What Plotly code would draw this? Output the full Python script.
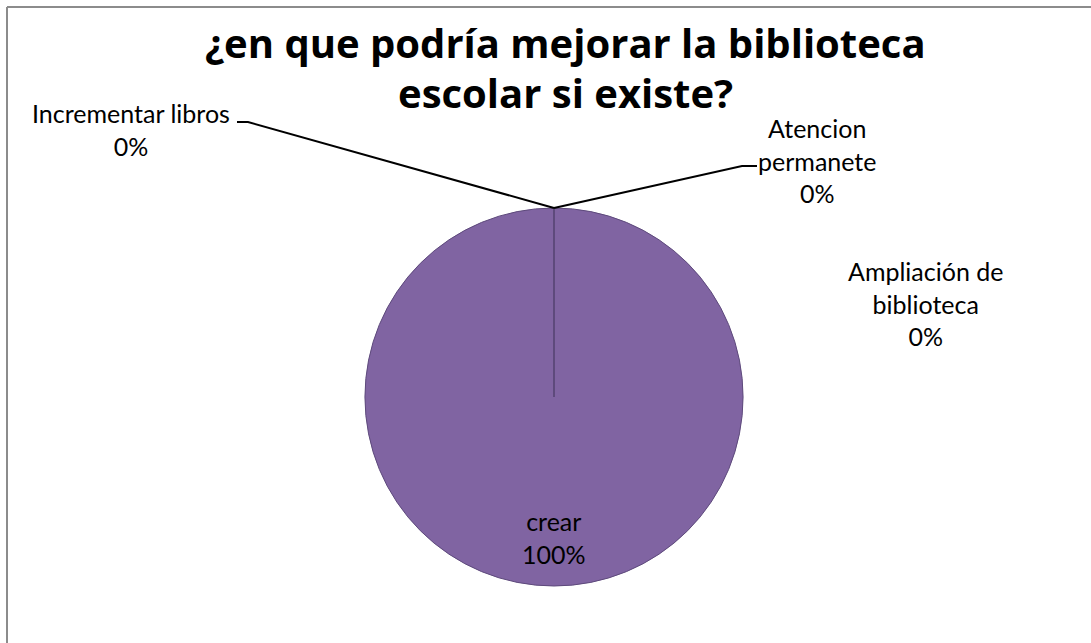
import plotly.graph_objects as go

# Data
categories = ["Incrementar libros", "Atencion permanete", "Ampliación de biblioteca", "crear"]
values = [0, 0, 0, 100]
label_text = ["Incrementar libros", "Atencion<br>permanete", "Ampliación de<br>biblioteca", "crear"]
title_lines = ["¿en que podría mejorar la biblioteca", "escolar si existe?"]

W, H = 1091, 643
FONT = "Lato"
TITLE_FONT = "Open Sans"
fill_color = "#8064A2"
edge_color = "#5E4A7C"


def px(x):
    return x / W


def py(y):
    return 1 - y / H


# pie domain (paper coords)
dom_x = [px(365), px(743)]
dom_y = [py(586), py(208)]
cx = (dom_x[0] + dom_x[1]) / 2
top_y = dom_y[1]
mid_y = (dom_y[0] + dom_y[1]) / 2

total = sum(values)
pcts = [f"{round(v / total * 100)}%" for v in values]

fig = go.Figure()
nz = [i for i, v in enumerate(values) if v > 0]
fig.add_trace(go.Pie(
    labels=[categories[i] for i in nz],
    values=[values[i] for i in nz],
    domain=dict(x=dom_x, y=dom_y),
    marker=dict(colors=[fill_color], line=dict(color=edge_color, width=1)),
    textinfo="none",
    sort=False,
    direction="clockwise",
    rotation=0,
    showlegend=False,
    hoverinfo="label+percent",
))

# Label positions (paper coords) for each category
label_pos = [
    (px(131), py(129)),
    (px(817), py(160)),
    (px(925), py(303)),
    (cx, py(537)),
]
annotations = []
for i, cat in enumerate(categories):
    x, y = label_pos[i]
    annotations.append(dict(
        x=x, y=y, xref="paper", yref="paper",
        text=f"{label_text[i]}<br>{pcts[i]}",
        showarrow=False, align="center",
        font=dict(family=FONT, size=25, color="#000000"),
        xanchor="center", yanchor="middle",
    ))

title_y = [py(42), py(92)]
for line, ty in zip(title_lines, title_y):
    annotations.append(dict(
        x=px(565), y=ty, xref="paper", yref="paper",
        text=f"<b>{line}</b>", showarrow=False,
        font=dict(family=TITLE_FONT, size=40, color="#000000"),
        xanchor="center", yanchor="middle",
    ))

shapes = [
    # chart border (top and left)
    dict(type="line", xref="paper", yref="paper", x0=px(7), x1=1.01, y0=py(7), y1=py(7),
         line=dict(color="#8C8C8C", width=2)),
    dict(type="line", xref="paper", yref="paper", x0=px(7), x1=px(7), y0=-0.01, y1=py(7),
         line=dict(color="#8C8C8C", width=2)),
    # slice boundary radius for zero-size slices
    dict(type="line", xref="paper", yref="paper", x0=cx, x1=cx,
         y0=mid_y, y1=top_y, line=dict(color=edge_color, width=2)),
    # leader line: Incrementar libros
    dict(type="path", xref="paper", yref="paper",
         path=f"M {px(237)},{py(122)} L {px(248)},{py(122)} L {cx},{top_y}",
         line=dict(color="#000000", width=2)),
    # leader line: Atencion permanete
    dict(type="path", xref="paper", yref="paper",
         path=f"M {cx},{top_y} L {px(742)},{py(166)} L {px(757)},{py(166)}",
         line=dict(color="#000000", width=2)),
]

fig.update_layout(
    width=W, height=H,
    margin=dict(l=0, r=0, t=0, b=0),
    paper_bgcolor="white", plot_bgcolor="white",
    annotations=annotations,
    shapes=shapes,
)

fig.write_html("out.html", config={"displayModeBar": False},
               post_script="document.body.style.margin='0';")
